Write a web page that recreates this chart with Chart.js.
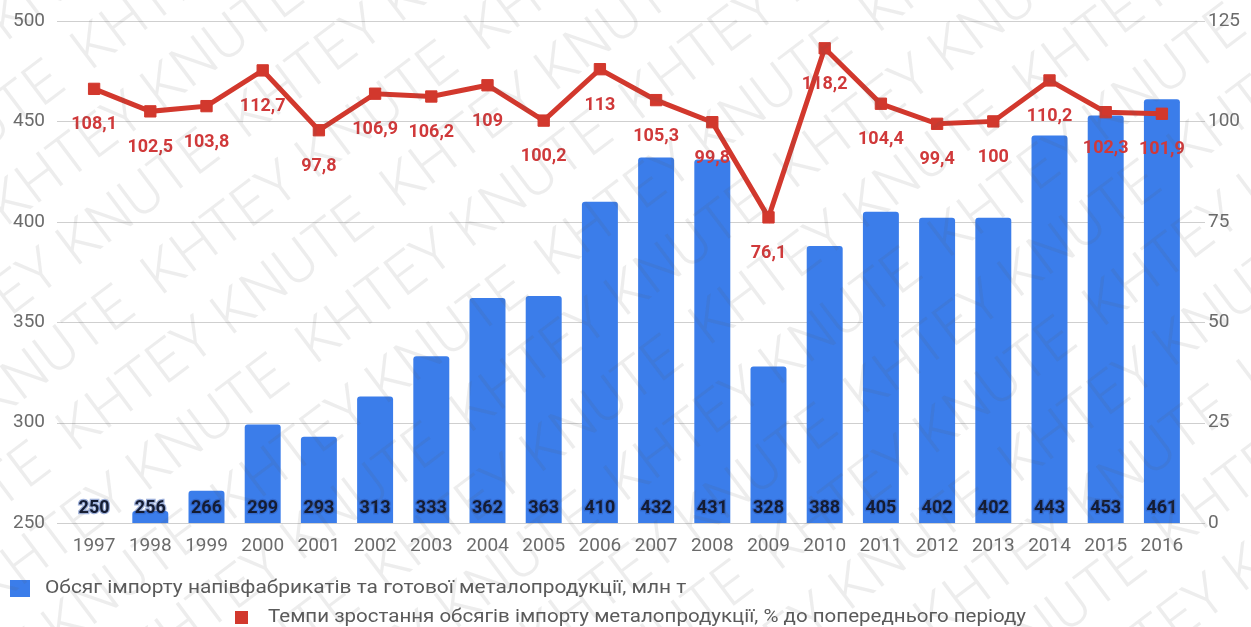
<!DOCTYPE html>
<html>
<head>
<meta charset="utf-8">
<script src="https://cdn.jsdelivr.net/npm/chart.js@4.4.1/dist/chart.umd.min.js"></script>
<style>
  html, body { margin: 0; padding: 0; background: #fff; }
  #wrap { position: relative; width: 1251px; height: 627px; overflow: hidden; }
  #chart { position: absolute; left: 0; top: 0; }
</style>
</head>
<body>
<div id="wrap"><canvas id="chart" width="1251" height="627"></canvas></div>
<script>
// Years on the category axis
const years = ['1997','1998','1999','2000','2001','2002','2003','2004','2005','2006',
               '2007','2008','2009','2010','2011','2012','2013','2014','2015','2016'];
// Import volume of semi-finished and finished metal products, mln t
const importVolume = [250,256,266,299,293,313,333,362,363,410,432,431,328,388,405,402,402,443,453,461];
// Growth rate of import volume, % of previous period
const growthRate = [108.1,102.5,103.8,112.7,97.8,106.9,106.2,109,100.2,113,105.3,99.8,76.1,118.2,104.4,99.4,100,110.2,102.3,101.9];
// Axis ticks
const leftTicks = [250,300,350,400,450,500];
const rightTicks = [0,25,50,75,100,125];
const legendLabels = [
  'Обсяг імпорту напівфабрикатів та готової металопродукції, млн т',
  'Темпи зростання обсягів імпорту металопродукції, % до попереднього періоду'
];
const watermarkText = 'KHTEY KNUTE';

const BLUE = '#3b7dea';
const RED = '#d2382d';
const FONT = 'Roboto, "Noto Sans", sans-serif';

const fmt = v => String(v).replace('.', ',');

// Horizontal grid lines, slightly wider than the category area
const gridPlugin = {
  id: 'grid',
  beforeDatasetsDraw(chart) {
    const {ctx, chartArea} = chart;
    const y = chart.scales.y;
    ctx.save();
    ctx.strokeStyle = '#cfcfcf';
    ctx.lineWidth = 1;
    leftTicks.forEach(t => {
      const py = Math.round(y.getPixelForValue(t)) + 0.5;
      ctx.beginPath();
      ctx.moveTo(chartArea.left - 9, py);
      ctx.lineTo(chartArea.right + 15, py);
      ctx.stroke();
    });
    ctx.restore();
  }
};

// Value labels for bars (at the base) and line points (under the marker)
const labelPlugin = {
  id: 'valueLabels',
  afterDatasetsDraw(chart) {
    const {ctx, chartArea} = chart;
    ctx.save();
    ctx.textAlign = 'center';
    ctx.textBaseline = 'middle';
    const bars = chart.getDatasetMeta(0).data;
    ctx.font = 'bold 18px ' + FONT;
    bars.forEach((b, i) => {
      const ty = chartArea.bottom - 15;
      ctx.lineWidth = 2.5;
      ctx.strokeStyle = 'rgba(40,80,170,0.45)';
      ctx.strokeText(String(importVolume[i]), b.x, ty);
      ctx.fillStyle = '#141c33';
      ctx.fillText(String(importVolume[i]), b.x, ty);
    });
    const pts = chart.getDatasetMeta(1).data;
    ctx.font = 'bold 18px ' + FONT;
    ctx.fillStyle = '#d0393a';
    pts.forEach((p, i) => {
      ctx.fillText(fmt(growthRate[i]), p.x, p.y + 36);
    });
    ctx.restore();
  }
};

// Diagonal watermark across the whole canvas
const watermarkPlugin = {
  id: 'watermark',
  afterDraw(chart) {
    const {ctx, width, height} = chart;
    ctx.save();
    ctx.translate(width / 2, height / 2);
    ctx.rotate(-37 * Math.PI / 180);
    ctx.font = '300 58px ' + FONT;
    ctx.fillStyle = 'rgba(90,90,90,0.11)';
    ctx.textBaseline = 'middle';
    const line = (watermarkText + '  ').repeat(10);
    const w = ctx.measureText(watermarkText + '  ').width;
    let k = 0;
    for (let y = -900; y <= 900; y += 74, k++) {
      ctx.fillText(line, -1500 + (k % 2) * (w / 2) + (k * 41) % w, y);
    }
    ctx.restore();
  }
};

// Vertical axes: fixed widths, no extra padding above/below the plot
const fitVertical = width => s => {
  s.width = width;
  s.paddingTop = 0;
  s.paddingBottom = 0;
};

new Chart(document.getElementById('chart'), {
  data: {
    labels: years,
    datasets: [
      {
        type: 'bar',
        label: legendLabels[0],
        data: importVolume,
        backgroundColor: BLUE,
        borderRadius: {topLeft: 3, topRight: 3},
        borderSkipped: 'bottom',
        categoryPercentage: 1.0,
        barPercentage: 0.64,
        yAxisID: 'y',
        order: 2
      },
      {
        type: 'line',
        label: legendLabels[1],
        data: growthRate,
        borderColor: RED,
        backgroundColor: RED,
        borderWidth: 5,
        pointStyle: 'rect',
        pointRadius: 8,
        pointBorderWidth: 1,
        pointBackgroundColor: RED,
        pointBorderColor: RED,
        tension: 0,
        yAxisID: 'y1',
        order: 1
      }
    ]
  },
  options: {
    responsive: false,
    animation: false,
    devicePixelRatio: 1,
    layout: { autoPadding: false, padding: { top: 21, left: 0, right: 0, bottom: 0 } },
    plugins: { legend: { display: false }, tooltip: { enabled: false } },
    scales: {
      x: {
        grid: { display: false, drawTicks: false },
        border: { display: false },
        ticks: { color: '#6b6b6b', font: { family: FONT, size: 19 }, padding: 12, maxRotation: 0, autoSkip: false },
        afterFit(s) { s.height = 104; s.paddingLeft = 0; s.paddingRight = 0; }
      },
      y: {
        position: 'left',
        min: 250, max: 500,
        afterBuildTicks(s) { s.ticks = leftTicks.map(v => ({value: v})); },
        grid: { display: false, drawTicks: false },
        border: { display: false },
        ticks: { color: '#6b6b6b', font: { family: FONT, size: 19 }, padding: 21 },
        afterFit: fitVertical(66)
      },
      y1: {
        position: 'right',
        min: 0, max: 125,
        afterBuildTicks(s) { s.ticks = rightTicks.map(v => ({value: v})); },
        grid: { display: false, drawTicks: false },
        border: { display: false },
        ticks: { color: '#6b6b6b', font: { family: FONT, size: 19 }, padding: 18 },
        afterFit: fitVertical(61)
      }
    }
  },
  plugins: [gridPlugin, labelPlugin, {
    // Legend: two rows, drawn on the canvas below the axis
    id: 'legendRows',
    afterDraw(chart) {
      const {ctx} = chart;
      ctx.save();
      ctx.textBaseline = 'middle';
      ctx.fillStyle = BLUE;
      ctx.fillRect(10, 580, 20, 17);
      ctx.fillStyle = RED;
      ctx.fillRect(235, 611, 13, 13);
      ctx.font = '18px ' + FONT;
      ctx.fillStyle = '#5a5a5a';
      ctx.save();
      ctx.translate(45, 588);
      ctx.scale(1.16, 1);
      ctx.fillText(legendLabels[0], 0, 0);
      ctx.restore();
      ctx.save();
      ctx.translate(268, 617);
      ctx.scale(1.14, 1);
      ctx.fillText(legendLabels[1], 0, 0);
      ctx.restore();
      ctx.restore();
    }
  }, watermarkPlugin]
});
</script>
</body>
</html>
